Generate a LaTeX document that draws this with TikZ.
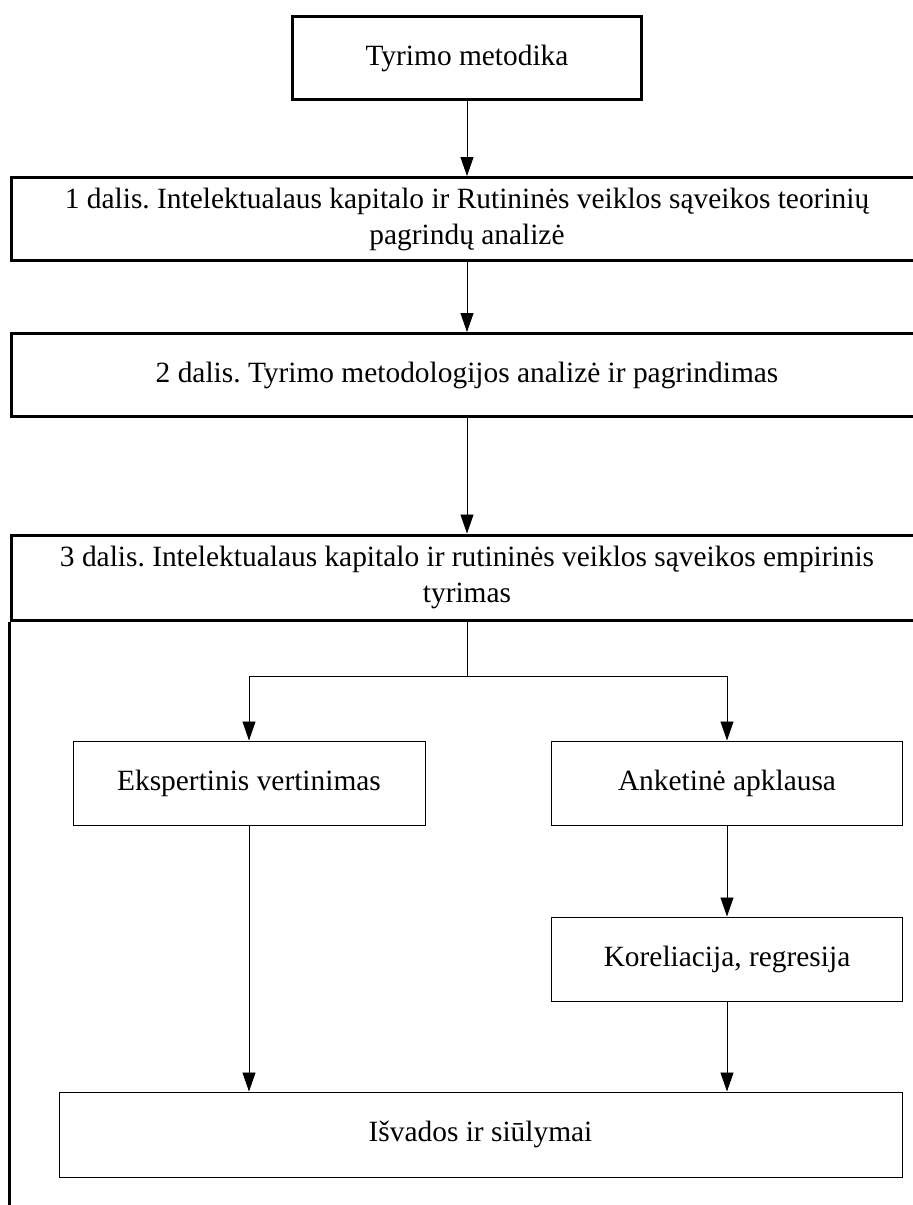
\documentclass[tikz,border=0pt]{standalone}
\usepackage{fontspec}
\setmainfont{Liberation Serif}
\usetikzlibrary{arrows.meta}
\frenchspacing

\begin{document}
\begin{tikzpicture}[x=1pt, y=-1pt,
        stage/.style={rectangle, draw=black, line width=3pt, align=center, inner sep=0pt, font=\fontsize{29.4}{36}\selectfont},
        part/.style={stage, minimum width=912pt, minimum height=83pt},
        task/.style={rectangle, draw=black, line width=1pt, align=center, inner sep=0pt, minimum height=84pt, font=\fontsize{29.4}{36}\selectfont},
        flow/.style={-{Triangle[length=19pt, width=13pt]}, line width=0.9pt}
    ]
        \useasboundingbox (0,0) rectangle (913,1205);

        % Nodes
        \node[stage, minimum width=349pt, minimum height=83pt] (TM) at (467, 58) {Tyrimo metodika};
        \node[part] (D1) at (467, 219) {1 dalis. Intelektualaus kapitalo ir Rutininės veiklos sąveikos teorinių\\pagrindų analizė};
        \node[part] (D2) at (467, 375) {2 dalis. Tyrimo metodologijos analizė ir pagrindimas};
        \node[part, minimum height=85pt] (D3) at (467, 577.5) {3 dalis. Intelektualaus kapitalo ir rutininės veiklos sąveikos empirinis\\tyrimas};
        \node[task, minimum width=352pt] (EV) at (249, 783) {Ekspertinis vertinimas};
        \node[task, minimum width=351pt] (AA) at (727, 783) {Anketinė apklausa};
        \node[task, minimum width=351pt] (KR) at (727, 959) {Koreliacija, regresija};
        \node[task, minimum width=843pt, minimum height=85pt] (IS) at (480.5, 1134.5) {Išvados ir siūlymai};
        \coordinate (bottom) at (0, 1210);

        % Frame of part 3
        \draw[line width=3pt] (D3.south west) -- (D3.south west |- bottom);

        % Arrows
        \draw[flow] (TM) -- (D1);
        \draw[flow] (D1) -- (D2);
        \draw[flow] (D2) -- (D3);
        \draw[flow] (D3.south) -- ++(0,55) -| (EV.north);
        \draw[flow] (D3.south) -- ++(0,55) -| (AA.north);
        \draw[flow] (AA) -- (KR);
        \draw[flow] (EV.south) -- (EV.south |- IS.north);
        \draw[flow] (KR.south) -- (KR.south |- IS.north);
    \end{tikzpicture}
\end{document}
